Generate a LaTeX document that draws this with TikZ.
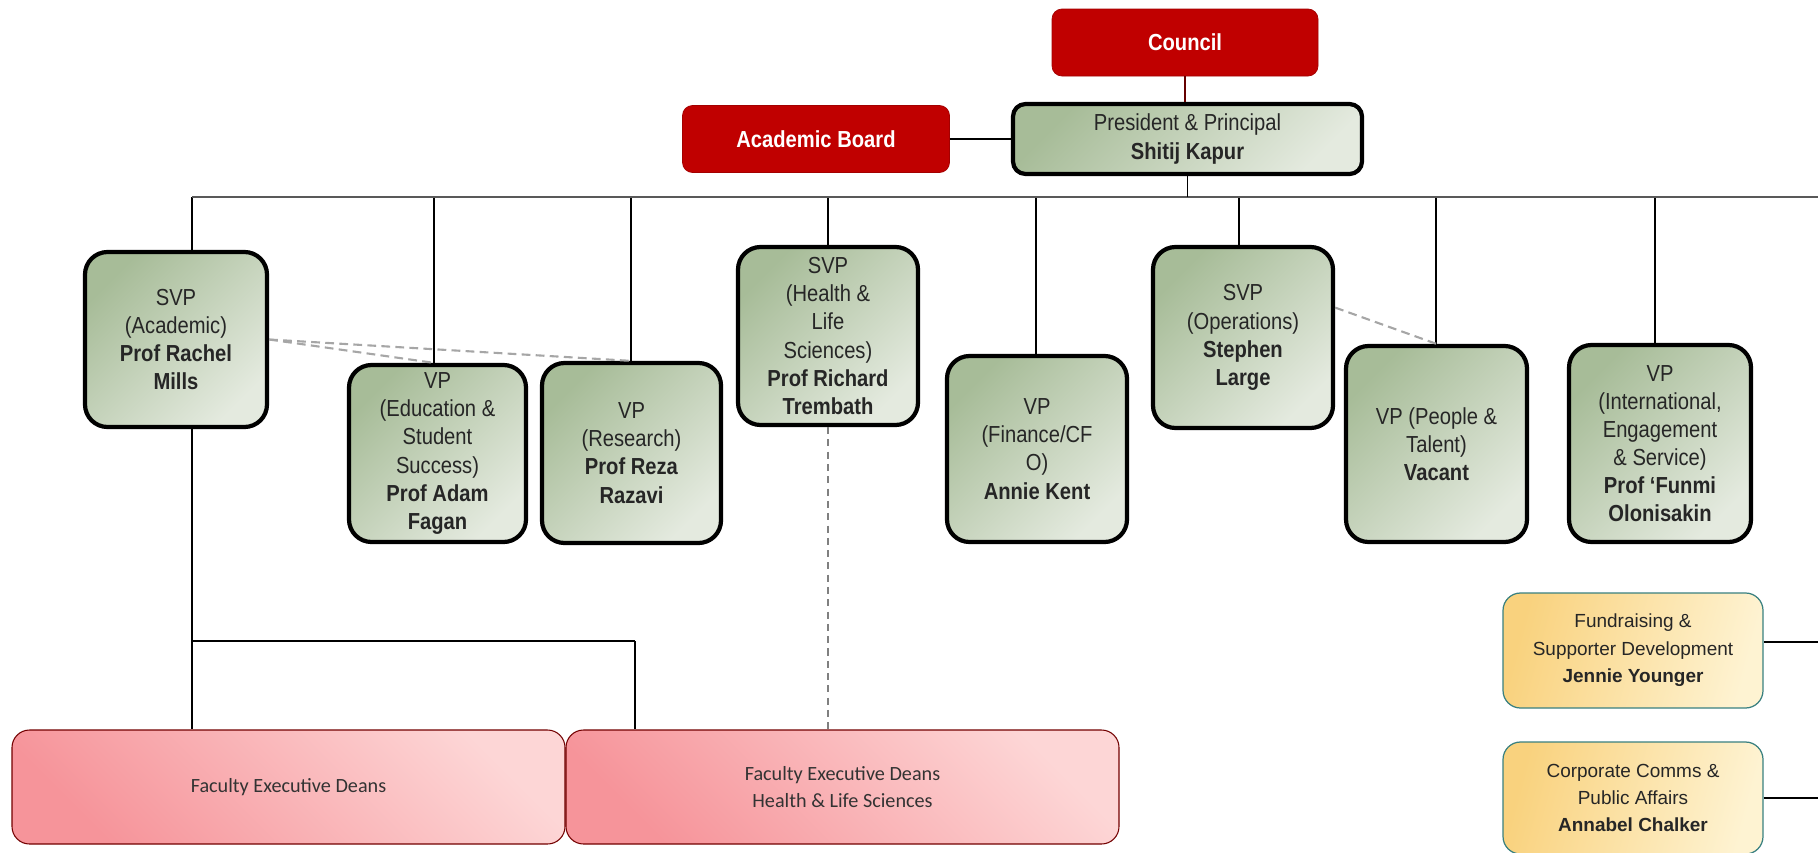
\documentclass[tikz,border=0pt]{standalone}
\usepackage{fontspec}
\setmainfont{Liberation Sans}[FakeStretch=0.87]
\newfontfamily\plainsans{Liberation Sans}
\newfontfamily\calib{Carlito}
\usepackage{tikz}
\usetikzlibrary{positioning}

\definecolor{cred}{HTML}{C00000}
\definecolor{gdark}{HTML}{A7BC98}
\definecolor{glight}{HTML}{E4EADF}
\definecolor{pdark}{HTML}{F6949A}
\definecolor{plight}{HTML}{FDD6D6}
\definecolor{ydark}{HTML}{F9D27E}
\definecolor{ylight}{HTML}{FEF3D2}

\begin{document}
\begin{tikzpicture}[x=0.02cm, y=-0.02cm,
	sz/.style 2 args={minimum width=#1*0.02cm, minimum height=#2*0.02cm},
	redbox/.style={fill=cred, draw=cred!85!black, rounded corners=0.2cm, text=white,
		font=\fontsize{13.2}{16}\selectfont\bfseries},
	vpbox/.style={draw=black, line width=2.4pt, rounded corners=0.45cm, left color=gdark,
		right color=glight, shading angle=45, align=center, inner sep=0pt, text=black!85,
		font=\fontsize{13.2}{16}\selectfont},
	deanbox/.style={draw=red!45!black, line width=0.6pt, rounded corners=0.35cm, left color=pdark,
		right color=plight, shading angle=135, align=center, text=black!80,
		font=\calib\fontsize{11.5}{15}\selectfont},
	unitbox/.style={draw=teal!55!gray, line width=0.7pt, rounded corners=0.35cm, left color=ydark,
		right color=ylight, shading angle=75, align=center, text=black!85,
		font=\plainsans\fontsize{10.8}{15.6}\selectfont},
	link/.style={line width=0.8pt},
	bus/.style={line width=1.3pt, black!65},
	dashlink/.style={line width=1.2pt, gray!70, dash pattern=on 5pt off 3pt},
	thindash/.style={line width=0.6pt, gray, dash pattern=on 4pt off 3pt}]
\useasboundingbox (0,0) rectangle (1818,852);

\node [redbox, sz={266}{67}] (council) at (1185,42.5) {Council};
\node [redbox, sz={267}{67}] (board) at (816,139) {Academic Board};
\node [vpbox, sz={349}{70}, rounded corners=0.25cm] (pres) at (1187.5,139)
	{President \& Principal\\\textbf{Shitij Kapur}};

\node [vpbox, sz={182}{175}] (acad) at (176,339.5)
	{SVP\\(Academic)\\\textbf{Prof Rachel}\\\textbf{Mills}};
\node [vpbox, sz={177}{177}] (edu) at (437.5,453.5)
	{VP\\(Education \&\\Student\\Success)\\\textbf{Prof Adam}\\\textbf{Fagan}};
\node [vpbox, sz={179}{180}] (res) at (631.5,453)
	{VP\\(Research)\\\textbf{Prof Reza}\\\textbf{Razavi}};
\node [vpbox, sz={180}{178}] (health) at (828,336)
	{SVP\\(Health \&\\Life\\Sciences)\\\textbf{Prof Richard}\\\textbf{Trembath}};
\node [vpbox, sz={180}{186}] (fin) at (1037,449)
	{VP\\(Finance/CF\\O)\\\textbf{Annie Kent}};
\node [vpbox, sz={180}{181}] (ops) at (1243,337.5)
	{SVP\\(Operations)\\\textbf{Stephen}\\\textbf{Large}};
\node [vpbox, sz={181}{196}] (people) at (1436.5,444)
	{VP (People \&\\Talent)\\\textbf{Vacant}};
\node [vpbox, sz={182}{197}] (intl) at (1660,443.5)
	{VP\\(International,\\Engagement\\\& Service)\\\textbf{Prof ‘Funmi}\\\textbf{Olonisakin}};

\node [deanbox, sz={553}{114}] (deans) at (288.5,787) {Faculty Executive Deans};
\node [deanbox, sz={553}{114}] (hls) at (842.5,787)
	{Faculty Executive Deans\\Health \& Life Sciences};

\node [unitbox, sz={260}{115}] (fund) at (1633,650.5)
	{Fundraising \&\\Supporter Development\\\textbf{Jennie Younger}};
\node [unitbox, sz={260}{112}] (comms) at (1633,798)
	{Corporate Comms \&\\Public Affairs\\\textbf{Annabel Chalker}};

\coordinate (busend) at (1818,197);
\foreach \n/\x in {acad/192, edu/434, res/631, health/828, fin/1036, ops/1239, people/1436, intl/1655}
{
	\coordinate (b-\n) at (\x,197);
	\draw [link] (b-\n) -- (b-\n |- \n.north);
}
\draw [bus] (b-acad) -- (busend);
\draw [link] (pres.south) -- (pres.south |- busend);
\draw [link, red!40!black] (council.south) -- (council.south |- pres.north);
\draw [link] (board.east) -- (pres.west);

\draw [dashlink] (acad.east) -- (b-edu |- edu.north);
\draw [dashlink] (acad.east) -- (res.north);
\draw [dashlink] (ops.18) -- (people.north);

\coordinate (fork) at (192,641);
\coordinate (fork2) at (635,641);
\draw [link] (b-acad |- acad.south) -- (b-acad |- deans.north);
\draw [line width=1.2pt] (fork) -- (fork2);
\draw [link] (fork2) -- (fork2 |- hls.north);
\draw [thindash] (health.south) -- (health.south |- hls.north);

\coordinate (r1) at (1818,642);
\coordinate (r2) at (1818,798);
\draw [link] (r1 -| fund.east) -- (r1);
\draw [link] (r2 -| comms.east) -- (r2);
\end{tikzpicture}
\end{document}
